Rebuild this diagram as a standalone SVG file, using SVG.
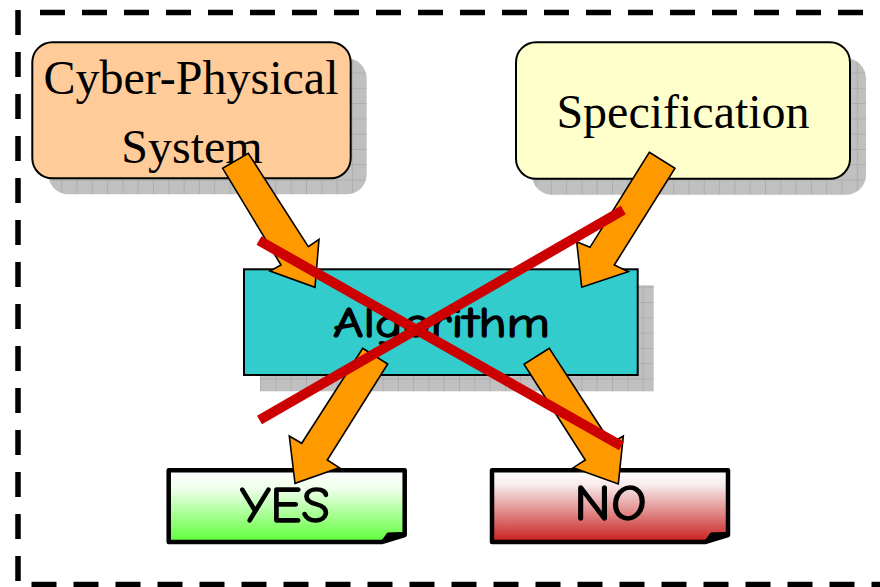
<svg xmlns="http://www.w3.org/2000/svg" width="880" height="587" viewBox="0 0 880 587">
  <style>
    .frame { fill: none; stroke: #000; stroke-width: 5.5; stroke-dasharray: 25 17; }
    .shadow { fill: url(#grid); }
    .box { stroke: #000; stroke-width: 2; }
    .serif { font-family: "Liberation Serif", "Times New Roman", serif; font-size: 48px; fill: #000; text-anchor: middle; }
    .hand { font-family: "Comic Sans MS", "Comic Neue", "Noto Sans", sans-serif; fill: #000; stroke: #000; stroke-width: 1.4; stroke-linejoin: round; text-anchor: middle; }
    .result { stroke: #000; stroke-width: 4.5; stroke-linejoin: round; }
    .fold { fill: #000; stroke: #000; stroke-width: 1; stroke-linejoin: round; }
    .arrow { fill: #FF9900; stroke: #000; stroke-width: 1.6; stroke-linejoin: miter; }
    .cross { stroke: #CC0000; stroke-width: 10; stroke-linecap: butt; }
  </style>
  <defs>
    <pattern id="grid" patternUnits="userSpaceOnUse" x="0" y="-4" width="15.3" height="15.3">
      <rect width="15.3" height="15.3" fill="#C0C0C0"/>
      <path d="M0,0 H15.3 M0,0 V15.3" stroke="#9C9C9C" stroke-width="1" fill="none"/>
    </pattern>
    <linearGradient id="gYes" x1="0" y1="0" x2="0" y2="1">
      <stop offset="0" stop-color="#FFFFFF"/>
      <stop offset="0.25" stop-color="#F0FFEC"/>
      <stop offset="1" stop-color="#5CFF38"/>
    </linearGradient>
    <linearGradient id="gNo" x1="0" y1="0" x2="0" y2="1">
      <stop offset="0" stop-color="#FFFFFF"/>
      <stop offset="0.2" stop-color="#F8ECEC"/>
      <stop offset="1" stop-color="#C81E1E"/>
    </linearGradient>
  </defs>

  <!-- dashed frame (open on the right) -->
  <g id="frame">
    <line class="frame" x1="18" y1="10" x2="18" y2="587"/>
    <line class="frame" x1="40" y1="12.5" x2="890" y2="12.5"/>
    <line class="frame" x1="31.5" y1="584.5" x2="890" y2="584.5"/>
  </g>

  <g id="cps">
    <rect class="shadow" x="48.3" y="58.3" width="318.4" height="136" rx="20"/>
    <rect class="box" x="32.3" y="42.3" width="318.4" height="136" rx="20" fill="#FFCC99"/>
    <text class="serif" x="191" y="94.3">Cyber-Physical</text>
    <text class="serif" x="192" y="163.3">System</text>
  </g>

  <g id="spec">
    <rect class="shadow" x="532" y="58.3" width="334" height="136.5" rx="20"/>
    <rect class="box" x="516" y="42.3" width="334" height="136.5" rx="20" fill="#FFFFCC"/>
    <text class="serif" x="683" y="128.3">Specification</text>
  </g>

  <g id="algorithm">
    <rect class="shadow" x="260" y="285.3" width="393.7" height="106"/>
    <rect class="box" x="244" y="269.3" width="393.7" height="105.7" fill="#33CCCC"/>
    <text class="hand" x="441.5" y="337" font-size="43" textLength="217" lengthAdjust="spacingAndGlyphs">Algorithm</text>
  </g>

  <g id="yes">
    <path class="result" fill="url(#gYes)" d="M168.7,470.3 H404.7 V535 L381.7,542 H168.7 Z"/>
    <path class="fold" d="M381.7,541 L387.5,533 L404,532.5 L404.7,535 Z"/>
    <text class="hand" x="285" y="521.7" font-size="50" textLength="90" lengthAdjust="spacingAndGlyphs">YES</text>
  </g>

  <g id="no">
    <path class="result" fill="url(#gNo)" d="M492,470.3 H728 V535 L705,542 H492 Z"/>
    <path class="fold" d="M705,541 L710.8,533 L727.3,532.5 L728,535 Z"/>
    <text class="hand" x="610.5" y="520" font-size="50" textLength="72.4" lengthAdjust="spacingAndGlyphs">NO</text>
  </g>

  <!-- block arrows between the nodes -->
  <g id="connectors">
    <polygon class="arrow" points="222.7,168.3 248.3,153.3 308.3,246.7 319,239.3 315,287.3 270,271 281,265"/>
    <polygon class="arrow" points="649.3,152.3 675,168.3 614.3,265 628.3,271.7 581.7,287.3 576.7,241.7 590,247.3"/>
    <polygon class="arrow" points="362.7,348.3 387.7,364 327.3,460 339.3,467.7 295,483.3 289.3,436 301.7,443.3"/>
    <polygon class="arrow" points="549.3,348.3 524,364.3 585.3,460 573.3,467.7 618.3,484 623.3,436 611,443.3"/>
  </g>

  <!-- red cross over the whole scheme -->
  <g id="cross">
    <line class="cross" x1="259" y1="240.5" x2="621.5" y2="446"/>
    <line class="cross" x1="623.3" y1="210" x2="259.5" y2="420"/>
  </g>
</svg>
